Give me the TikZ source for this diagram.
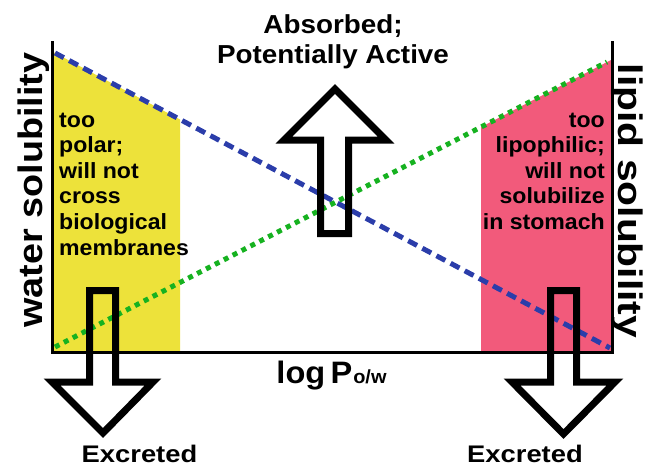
\documentclass[tikz,border=0pt]{standalone}
\usepackage{fontspec}
\usepackage{graphicx}
\setmainfont{Liberation Sans}
\definecolor{polarzone}{RGB}{237,226,58}
\definecolor{lipozone}{RGB}{242,90,123}
\definecolor{waterblue}{RGB}{43,61,170}
\definecolor{lipidgreen}{RGB}{22,178,32}
% stretch text horizontally by a factor
\newcommand{\widetext}[2]{\scalebox{#1}[1]{#2}}
\tikzset{
  axisline/.style={line width=3pt, line cap=rect},
  watercurve/.style={waterblue, line width=5pt, dash pattern=on 10pt off 6pt},
  lipidcurve/.style={lipidgreen, line width=5pt, dash pattern=on 5pt off 5pt},
  flowarrow/.style={line width=7pt, line join=miter, miter limit=10},
  lbl/.style={inner sep=0pt, font=\bfseries},
}
\begin{document}
\begin{tikzpicture}[x=1pt,y=-1pt]
\useasboundingbox (0,0) rectangle (648,466);

% shaded solubility regions
\fill[polarzone] (52,51.4) -- (180,119.5) -- (180,352) -- (52,352) -- cycle;
\fill[lipozone] (481,127) -- (612,59.5) -- (612,352) -- (481,352) -- cycle;

% solubility trends
\draw[watercurve] (55,53) -- (610,348);
\draw[lipidcurve] (55,347) -- (607,62);

% axes
\draw[axisline] (52,42) -- (52,352) -- (612,352) -- (612,42);

% outlined block arrows
\draw[flowarrow] (320.5,233.5) -- (320.5,140) -- (284,140) -- (335,89) -- (386,140) -- (348.5,140) -- (348.5,233.5) -- cycle;
\draw[flowarrow] (89.5,290.5) -- (89.5,382) -- (52,382) -- (103,433) -- (153,382) -- (115.5,382) -- (115.5,290.5) -- cycle;
\draw[flowarrow] (550.5,290.5) -- (550.5,382) -- (512,382) -- (563.5,434) -- (615,382) -- (576.5,382) -- (576.5,290.5) -- cycle;

% labels
\node[lbl, anchor=base] (absorbed) at (333,33) {\fontsize{26}{30}\selectfont\widetext{1.07}{Absorbed;}};
\node[lbl, anchor=base] (active) at (333,63) {\fontsize{26}{30}\selectfont\widetext{1.07}{Potentially Active}};

\node[lbl, anchor=base] (logp) at (331.5,383) {\fontsize{31}{34}\selectfont\widetext{1.05}{log\hspace{5pt}P\hspace{1pt}{\fontsize{19}{20}\selectfont o/w}}};

\node[lbl, anchor=base, rotate=90] (waterlbl) at (42,190) {\fontsize{34}{38}\selectfont\widetext{1.11}{water solubility}};
\node[lbl, anchor=base, rotate=-90] (lipidlbl) at (618,201) {\fontsize{34}{38}\selectfont\widetext{1.2}{lipid solubility}};

\node[lbl, anchor=base west] (polartext) at (59,127) {\fontsize{22}{25.6}\selectfont\widetext{1.05}{\begin{tabular}[t]{@{}l@{}}too\\ polar;\\ will not\\ cross\\ biological\\ membranes\end{tabular}}};
\node[lbl, anchor=base east] (lipotext) at (605,127) {\fontsize{22}{25.6}\selectfont\widetext{1.05}{\begin{tabular}[t]{@{}r@{}}too\\ lipophilic;\\ will not\\ solubilize\\ in stomach\end{tabular}}};

\node[lbl, anchor=base] (excretedleft) at (139.5,462) {\fontsize{24}{28}\selectfont\widetext{1.14}{Excreted}};
\node[lbl, anchor=base] (excretedright) at (525,462) {\fontsize{24}{28}\selectfont\widetext{1.14}{Excreted}};
\end{tikzpicture}
\end{document}
